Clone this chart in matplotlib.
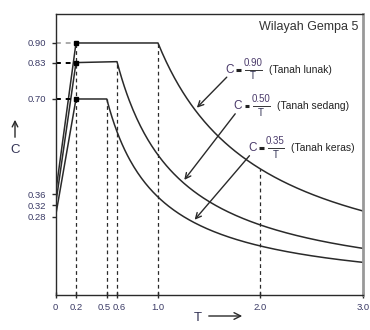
import matplotlib
matplotlib.use('Agg')
import matplotlib.pyplot as plt
import matplotlib.transforms as mtransforms
import numpy as np

plt.rcParams['font.family'] = ['Liberation Sans', 'DejaVu Sans']

# spectrum data (Wilayah Gempa 5)
soils = ['Tanah lunak', 'Tanah sedang', 'Tanah keras']
A0 = [0.36, 0.32, 0.28]     # C at T = 0
Am = [0.90, 0.83, 0.70]     # plateau
Tc = [1.0, 0.6, 0.5]        # corner period
Ar = [0.90, 0.50, 0.35]     # C = Ar / T
T0 = 0.2
Tend = 3.0
T_mark = 2.0

xticks = [0, 0.2, 0.5, 0.6, 1.0, 2.0, 3.0]
xticklabels = ['0', '0.2', '0.5', '0.6', '1.0', '2.0', '3.0']
yticks = [0.28, 0.32, 0.36, 0.70, 0.83, 0.90]
yticklabels = ['0.28', '0.32', '0.36', '0.70', '0.83', '0.90']

# label positions (the "C" of each C = ... text) and arrow tips
lab_xy = [(1.70, 0.805), (1.78, 0.675), (1.92, 0.525)]
tip_T = [1.36, 1.24, 1.34]

tick_col = '#3b3b66'
line_col = '#2a2a2a'

fig = plt.figure(figsize=(3.7, 3.3), dpi=100)
ax = fig.add_axes([0.15, 0.106, 0.831, 0.852])
ax.set_xlim(0, Tend)
ax.set_ylim(0, 1.004)

for a0, am, tc, ar in zip(A0, Am, Tc, Ar):
    tt = np.linspace(tc, Tend, 200)
    x = np.concatenate([[0, T0], tt])
    y = np.concatenate([[a0, am], ar / tt])
    ax.plot(x, y, color=line_col, lw=1.1)

# dashed guides
ax.plot([T0, T0], [0, max(Am)], color=line_col, lw=0.9, ls=(0, (3, 2.5)))
for am, tc in zip(Am, Tc):
    ax.plot([tc, tc], [0, am], color=line_col, lw=0.9, ls=(0, (3, 2.5)))
ax.plot([T_mark, T_mark], [0, Ar[0] / T_mark], color=line_col, lw=0.9, ls=(0, (3, 2.5)))
for i, am in enumerate(Am):
    c = '#aaaaaa' if i == 0 else 'black'
    ax.plot([0, T0], [am, am], color=c, lw=1.4, ls=(0, (2.5, 2.5)))
ax.plot([T0] * 3, Am, 's', color='black', ms=2.5)

# labels "C = ar/T (soil)" with arrows
for (lx, ly), tt, ar, name in zip(lab_xy, tip_T, Ar, soils):
    ax.text(lx, ly, 'C', fontsize=8.5, color='#4a3a6a', va='center', ha='center')
    ax.plot([lx + 0.065, lx + 0.11], [ly, ly], color='#222222', lw=2.2,
            solid_capstyle='butt')
    ax.text(lx + 0.225, ly + 0.006, '%.2f' % ar, fontsize=7, color='#4a3a6a',
            va='bottom', ha='center')
    ax.plot([lx + 0.15, lx + 0.31], [ly, ly], color='#333333', lw=0.7)
    ax.text(lx + 0.225, ly - 0.006, 'T', fontsize=7, color='#333355',
            va='top', ha='center')
    ax.text(lx + 0.38, ly, '(%s)' % name, fontsize=7.5, color='#222222',
            va='center', ha='left')
    ax.annotate('', xy=(tt, ar / tt), xytext=(lx - 0.01, ly - 0.02),
                arrowprops=dict(arrowstyle='->', color=line_col, lw=1.0))

ax.text(0.985, 0.975, 'Wilayah Gempa 5', transform=ax.transAxes, ha='right',
        va='top', fontsize=9, color='#333333')

ax.set_xticks(xticks)
ax.set_xticklabels(xticklabels)
ax.set_yticks(yticks)
ax.set_yticklabels(yticklabels)
ax.tick_params(axis='both', labelsize=6.8, labelcolor=tick_col, length=3,
               width=1, color=line_col)
ax.tick_params(axis='x', direction='inout', length=4)

# nudge the crowded 0.5 / 0.6 labels apart
xl = ax.get_xticklabels()
xl[2].set_transform(xl[2].get_transform() + mtransforms.ScaledTranslation(-2.5 / 100, 0, fig.dpi_scale_trans))
xl[3].set_transform(xl[3].get_transform() + mtransforms.ScaledTranslation(2.5 / 100, 0, fig.dpi_scale_trans))

for s in ['left', 'bottom', 'top']:
    ax.spines[s].set_color(line_col)
    ax.spines[s].set_linewidth(1.0)
ax.spines['right'].set_color('#999999')
ax.spines['right'].set_linewidth(2.0)

# axis titles with arrows
fig.text(15 / 370, 1 - 150 / 330, 'C', fontsize=9.5, color='#333355',
         ha='center', va='center')
fig.add_artist(matplotlib.patches.FancyArrowPatch(
    (15 / 370, 1 - 140 / 330), (15 / 370, 1 - 117 / 330),
    transform=fig.transFigure, arrowstyle='->', mutation_scale=10,
    color=line_col, lw=1.0))
fig.text(198 / 370, 1 - 318 / 330, 'T', fontsize=9.5, color='#333355',
         ha='center', va='center')
fig.add_artist(matplotlib.patches.FancyArrowPatch(
    (206 / 370, 1 - 316 / 330), (245 / 370, 1 - 316 / 330),
    transform=fig.transFigure, arrowstyle='->', mutation_scale=12,
    color=line_col, lw=1.0))

fig.savefig('out.png', dpi=100)
